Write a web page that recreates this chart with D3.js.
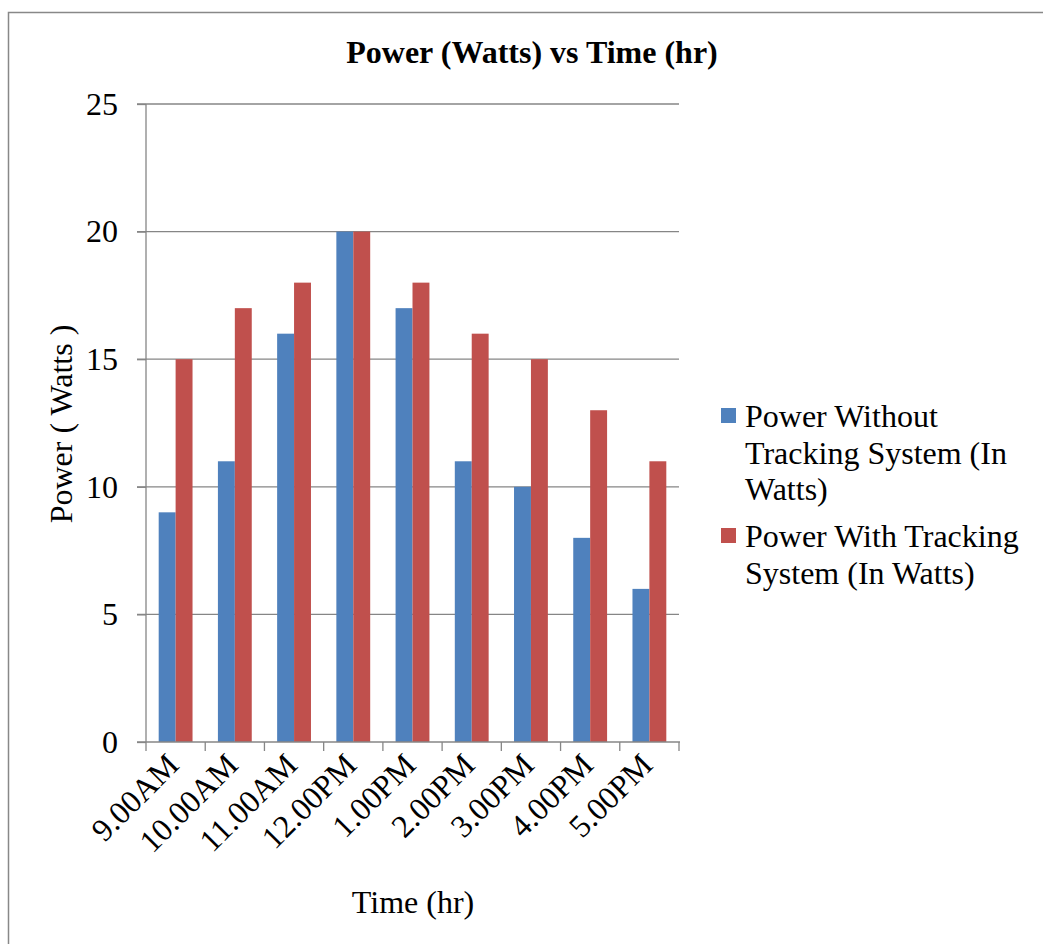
<!DOCTYPE html>
<html>
<head>
<meta charset="utf-8">
<script src="https://cdn.jsdelivr.net/npm/d3@7"></script>
<style>
  html, body { margin: 0; padding: 0; background: #fff; }
  svg { display: block; }
  text { font-family: "Liberation Serif", "Times New Roman", serif; fill: #000; }
</style>
</head>
<body>
<svg id="chart" width="1043" height="944"></svg>
<script>
const categories = ["9.00AM", "10.00AM", "11.00AM", "12.00PM", "1.00PM", "2.00PM", "3.00PM", "4.00PM", "5.00PM"];
const withoutTracking = [9, 11, 16, 20, 17, 11, 10, 8, 6];
const withTracking = [15, 17, 18, 20, 18, 16, 15, 13, 11];
const seriesNames = ["Power Without Tracking System (In Watts)", "Power With Tracking System (In Watts)"];
const legendLines = [["Power Without", "Tracking System (In", "Watts)"], ["Power With Tracking", "System (In Watts)"]];
const colors = ["#4F81BD", "#C0504D"];
const yTicks = [0, 5, 10, 15, 20, 25];
const chartTitle = "Power (Watts) vs Time (hr)";
const xTitle = "Time (hr)";
const yTitle = "Power ( Watts )";

const svg = d3.select("#chart");
const pLeft = 146, pRight = 679, pTop = 104, pBottom = 742;
const fs = "32px";

// outer border
svg.append("rect").attr("x", 8.5).attr("y", 12.5).attr("width", 1100).attr("height", 1000)
  .attr("fill", "none").attr("stroke", "#888").attr("stroke-width", 1.5);

const x = d3.scaleBand().domain(categories).range([pLeft, pRight]).paddingInner(0).paddingOuter(0);
const y = d3.scaleLinear().domain([0, 25]).range([pBottom, pTop]);

// gridlines
svg.append("g").selectAll("line").data(yTicks.filter(d => d > 0)).join("line")
  .attr("x1", pLeft - 9).attr("x2", pRight).attr("y1", d => y(d)).attr("y2", d => y(d))
  .attr("stroke", "#868686").attr("stroke-width", 1.3);

// bars
const bw = x.bandwidth() / 3.5;
const data = categories.map((c, i) => ({c, vals: [withoutTracking[i], withTracking[i]]}));
const groups = svg.append("g").selectAll("g").data(data).join("g");
groups.selectAll("rect").data(d => d.vals.map((v, k) => ({c: d.c, v, k}))).join("rect")
  .attr("x", d => x(d.c) + x.bandwidth() / 2 - bw + d.k * bw)
  .attr("width", bw)
  .attr("y", d => y(d.v))
  .attr("height", d => y(0) - y(d.v))
  .attr("fill", d => colors[d.k]);

// y axis
const yAxis = d3.axisLeft(y).tickValues(yTicks).tickSize(9).tickPadding(19).tickFormat(d3.format("d"));
const gy = svg.append("g").attr("transform", `translate(${pLeft},0)`).call(yAxis);
gy.select(".domain").attr("stroke", "#868686").attr("stroke-width", 1.3).attr("d", `M0,${pTop}V${pBottom}`);
gy.selectAll(".tick line").attr("stroke", "#868686").attr("stroke-width", 1.3);
gy.selectAll(".tick text").style("font-family", "Liberation Serif").style("font-size", fs).attr("fill", "#000");

// x axis
const xAxis = d3.axisBottom(x).tickSize(0).tickFormat("");
const gx = svg.append("g").attr("transform", `translate(0,${pBottom})`).call(xAxis);
gx.select(".domain").attr("stroke", "#868686").attr("stroke-width", 1.3).attr("d", `M${pLeft - 9},0H${pRight + 1}`);
// category boundary ticks
const boundaries = categories.map(c => x(c)).concat([pRight]);
svg.append("g").selectAll("line").data(boundaries).join("line")
  .attr("x1", d => d).attr("x2", d => d).attr("y1", pBottom).attr("y2", pBottom + 9)
  .attr("stroke", "#868686").attr("stroke-width", 1.3);

// x tick labels rotated
svg.append("g").selectAll("text").data(categories).join("text")
  .attr("transform", d => `translate(${x(d) + x.bandwidth() / 2 + 5},${pBottom + 25}) rotate(-45)`)
  .attr("text-anchor", "end")
  .style("font-size", fs)
  .text(d => d);

// titles
svg.append("text").attr("x", 532).attr("y", 63).attr("text-anchor", "middle")
  .style("font-size", fs).style("font-weight", "bold").text(chartTitle);
svg.append("text").attr("x", 413).attr("y", 913).attr("text-anchor", "middle")
  .style("font-size", fs).text(xTitle);
svg.append("text").attr("transform", `translate(72,424) rotate(-90)`).attr("text-anchor", "middle")
  .style("font-size", fs).text(yTitle);

// legend
const legendTop = [427, 547];
const lg = svg.append("g");
seriesNames.forEach((name, i) => {
  lg.append("rect").attr("x", 721).attr("y", legendTop[i] - 19).attr("width", 15).attr("height", 15)
    .attr("fill", colors[i]);
  const t = lg.append("text").attr("x", 745).attr("y", legendTop[i]).style("font-size", fs);
  legendLines[i].forEach((ln, j) => {
    t.append("tspan").attr("x", 745).attr("dy", j === 0 ? 0 : 36.5).text(ln);
  });
});
</script>
</body>
</html>
